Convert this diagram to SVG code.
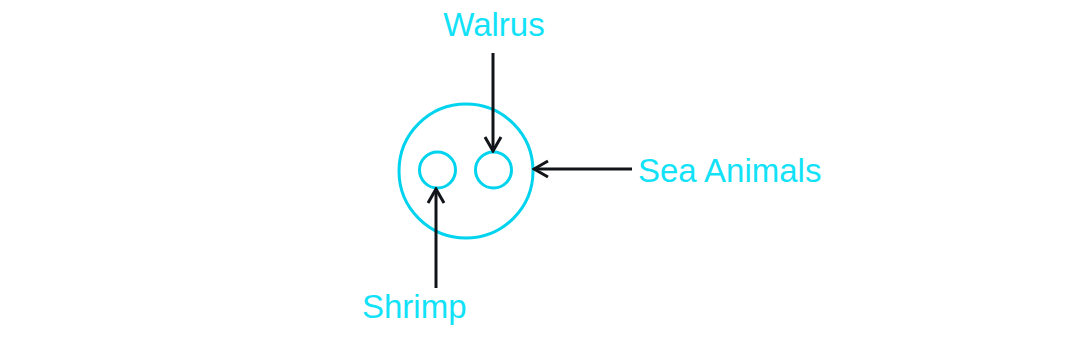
<svg xmlns="http://www.w3.org/2000/svg" width="1073" height="359" viewBox="0 0 1073 359">
<defs>
<style>
.ring{fill:none;stroke:#00d3ee;stroke-width:3}
.lbl{font-family:"Liberation Sans",Arial,sans-serif;font-size:33px;fill:#12e2f7}
.conn{fill:none;stroke:#111418;stroke-width:3}
</style>
<marker id="arr" viewBox="0 0 18 20" refX="16" refY="10" markerWidth="18" markerHeight="20" markerUnits="userSpaceOnUse" orient="auto">
<path d="M2,2 L16,10 L2,18" fill="none" stroke="#111418" stroke-width="3"/>
</marker>
</defs>
<rect width="1073" height="359" fill="#ffffff"/>
<g id="sea-animals-node"><circle class="ring" cx="466" cy="171" r="67"/></g>
<g id="shrimp-node"><circle class="ring" cx="437.5" cy="170" r="18"/></g>
<g id="walrus-node"><circle class="ring" cx="493.5" cy="170" r="18"/></g>
<g id="connectors">
<line class="conn" x1="493" y1="53" x2="493" y2="151" marker-end="url(#arr)"/>
<line class="conn" x1="436" y1="288" x2="436" y2="189" marker-end="url(#arr)"/>
<line class="conn" x1="632" y1="169" x2="534" y2="169" marker-end="url(#arr)"/>
</g>
<g id="labels">
<text class="lbl" x="494" y="36" text-anchor="middle">Walrus</text>
<text class="lbl" x="638" y="182">Sea Animals</text>
<text class="lbl" x="362" y="318">Shrimp</text>
</g>
</svg>
